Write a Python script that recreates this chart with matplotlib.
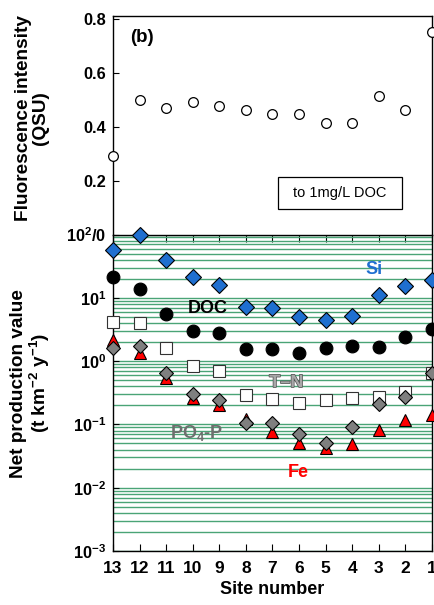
import matplotlib
matplotlib.use("Agg")
import matplotlib.pyplot as plt
import matplotlib.patheffects as pe
from matplotlib.patches import Rectangle
from matplotlib.ticker import FixedLocator, LogLocator

plt.rcParams['font.family'] = ['Liberation Sans', 'DejaVu Sans']
plt.rcParams['font.weight'] = 'bold'
plt.rcParams['axes.labelweight'] = 'bold'
plt.rcParams['mathtext.fontset'] = 'custom'
plt.rcParams['mathtext.rm'] = 'Liberation Sans:bold'
plt.rcParams['mathtext.bf'] = 'Liberation Sans:bold'
plt.rcParams['mathtext.it'] = 'Liberation Sans:bold'

# site numbers (13 = upstream, left)
sites = [13, 12, 11, 10, 9, 8, 7, 6, 5, 4, 3, 2, 1]

# fluorescence intensity (QSU, per 1 mg/L DOC)
fluor = [0.29, 0.50, 0.47, 0.49, 0.475, 0.46, 0.447, 0.447, 0.412, 0.412, 0.512, 0.46, 0.75]

# net production values (t km-2 y-1)
si = [57, 100, 40, 21.7, 16, 7.1, 6.8, 4.9, 4.5, 5.1, 11, 15.5, 19.2]
doc = [21.7, 13.7, 5.6, 3.0, 2.76, 1.58, 1.54, 1.32, 1.62, 1.76, 1.70, 2.44, 3.2]
tn = [4.2, 4.0, 1.6, 0.83, 0.71, 0.295, 0.25, 0.216, 0.244, 0.265, 0.275, 0.33, 0.64]
po4 = [1.64, 1.76, 0.645, 0.30, 0.244, 0.106, 0.106, 0.071, 0.051, 0.092, 0.21, 0.275, 0.64]
fe = [2.16, 1.36, 0.54, 0.26, 0.20, 0.123, 0.076, 0.05, 0.043, 0.049, 0.081, 0.117, 0.14]

top_ticks = [0.2, 0.4, 0.6, 0.8]
log_ticks = [1e-3, 1e-2, 1e-1, 1e0, 1e1, 1e2]
log_labels = [r'$10^{-3}$', r'$10^{-2}$', r'$10^{-1}$', r'$10^{0}$', r'$10^{1}$', r'$10^{2}$/0']

fig = plt.figure(figsize=(4.35, 6.05), dpi=100)
left, width = 113 / 435, 319 / 435
ax1 = fig.add_axes([left, 1 - 234.5 / 605, width, 218.5 / 605])
ax2 = fig.add_axes([left, 1 - 551 / 605, width, 316.5 / 605])

# ---- top panel: fluorescence intensity
ax1.plot(sites, fluor, 'o', ms=7, mfc='white', mec='black', mew=0.9, clip_on=False, zorder=5)
ax1.set_xlim(13, 1)
ax1.set_ylim(0, 0.81)
ax1.yaxis.set_major_locator(FixedLocator(top_ticks))
ax1.set_yticklabels(['0.2', '0.4', '0.6', '0.8'])
ax1.set_xticks([])
ax1.spines['bottom'].set_visible(False)
ax1.tick_params(axis='y', direction='in', length=4, labelsize=11.8, pad=5)
ax1.set_ylabel('Fluorescence intensity\n(QSU)', fontsize=13.7, linespacing=1.05)
ax1.yaxis.set_label_coords(-0.2, 0.535)
ax1.text(0.09, 0.90, '(b)', transform=ax1.transAxes, fontsize=13.5, ha='center', va='center')
ax1.add_patch(Rectangle((0.516, 0.118), 0.39, 0.145, transform=ax1.transAxes,
                        fill=False, edgecolor='black', lw=0.9))
ax1.text(0.711, 0.19, 'to 1mg/L DOC', transform=ax1.transAxes, fontsize=10.5,
         fontweight='normal', ha='center', va='center')

# ---- bottom panel: net production values
ax2.set_yscale('log')
ax2.set_xlim(13, 1)
ax2.set_ylim(1e-3, 1e2)
ax2.yaxis.set_major_locator(FixedLocator(log_ticks))
ax2.yaxis.set_minor_locator(LogLocator(base=10, subs=range(2, 10)))
ax2.yaxis.set_minor_formatter(plt.NullFormatter())
ax2.grid(True, which='both', axis='y', color='#4aa476', lw=1.0)
ax2.set_axisbelow(True)

ax2.plot(sites, fe, '^', ms=9, mfc='#ff0000', mec='black', mew=0.8, clip_on=False, zorder=3)
ax2.plot(sites, tn, 's', ms=9.3, mfc='white', mec='#333333', mew=0.8, clip_on=False, zorder=4)
ax2.plot(sites, po4, 'D', ms=7.4, mfc='#7f7f7f', mec='black', mew=0.8, clip_on=False, zorder=5)
ax2.plot(sites, doc, 'o', ms=9.2, mfc='black', mec='black', mew=0.8, clip_on=False, zorder=6)
ax2.plot(sites, si, 'D', ms=8, mfc='#1f6fd0', mec='black', mew=0.8, clip_on=False, zorder=7)

ax2.set_yticklabels(log_labels)
ax2.set_xticks(sites)
ax2.set_xticklabels([str(s) for s in sites])
ax2.tick_params(axis='y', which='major', direction='in', length=4, labelsize=11.8, pad=5)
ax2.tick_params(axis='y', which='minor', length=0)
ax2.tick_params(axis='x', direction='in', length=5, top=True, labelsize=12.5, pad=7)
ax2.set_xlabel('Site number', fontsize=13, labelpad=4)
ax2.set_ylabel('Net production value\n(t km$^{-2}$ y$^{-1}$)', fontsize=13.7, linespacing=1.05)
ax2.yaxis.set_label_coords(-0.19, 0.53)

lab_kw = dict(transform=ax2.transAxes, fontsize=13, ha='center', va='center')
ax2.text(0.819, 0.888, 'Si', color='#1f6fd0', **lab_kw)
ax2.text(0.296, 0.767, 'DOC', color='black', **lab_kw)
ax2.text(0.543, 0.532, 'T\u2013N', color='#a8a8a8', zorder=8,
         path_effects=[pe.withStroke(linewidth=1.0, foreground='#505050')], **lab_kw)
ax2.text(0.262, 0.372, r'PO$_4$-P', color='#6e6e6e', **lab_kw)
ax2.text(0.582, 0.247, 'Fe', color='#ff0000', **lab_kw)

for ax in (ax1, ax2):
    for s in ax.spines.values():
        s.set_linewidth(1.0)

fig.savefig('out.png', dpi=100)
